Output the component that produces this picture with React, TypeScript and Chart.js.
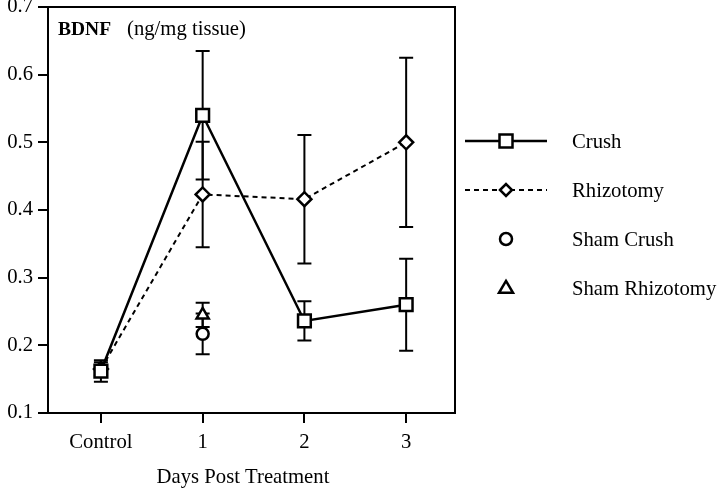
import React, { useEffect, useRef } from "react";
import { Chart, registerables } from "chart.js";

Chart.register(...registerables);

const categories = ["Control", "1", "2", "3"];
const yTickValues = [0.1, 0.2, 0.3, 0.4, 0.5, 0.6, 0.7];
const seriesNames = ["Crush", "Rhizotomy", "Sham Crush", "Sham Rhizotomy"];
const crushMean = [0.162, 0.54, 0.236, 0.26];
const crushErr = [0.016, 0.095, 0.029, 0.068];
const rhizMean = [0.165, 0.423, 0.416, 0.5];
const rhizErr = [0.01, 0.078, 0.095, 0.125];
const shamCrushMean: (number | null)[] = [null, 0.217, null, null];
const shamCrushErr: (number | null)[] = [null, 0.03, null, null];
const shamRhizMean: (number | null)[] = [null, 0.245, null, null];
const shamRhizErr: (number | null)[] = [null, 0.018, null, null];
const titleBold = "BDNF";
const titleUnit = "(ng/mg tissue)";
const xTitle = "Days Post Treatment";

const FONT = "'Liberation Serif', 'Times New Roman', serif";
const FS = 20.7;

const toPoints = (arr: (number | null)[]) =>
  arr.map((v, i) => (v == null ? null : { x: i, y: v })).filter((p) => p !== null);

const means = [crushMean, rhizMean, shamCrushMean, shamRhizMean];
const errs = [crushErr, rhizErr, shamCrushErr, shamRhizErr];

function drawMarker(ctx: CanvasRenderingContext2D, style: string, x: number, y: number, r: number) {
  ctx.beginPath();
  if (style === "rect") {
    ctx.rect(x - r, y - r, 2 * r, 2 * r);
  } else if (style === "rectRot") {
    ctx.moveTo(x - r, y);
    ctx.lineTo(x, y - r);
    ctx.lineTo(x + r, y);
    ctx.lineTo(x, y + r);
    ctx.closePath();
  } else if (style === "circle") {
    ctx.arc(x, y, r, 0, Math.PI * 2);
  } else {
    const h = r * 1.7;
    ctx.moveTo(x, y - h * 0.6);
    ctx.lineTo(x + r, y + h * 0.4);
    ctx.lineTo(x - r, y + h * 0.4);
    ctx.closePath();
  }
  ctx.fillStyle = "#fff";
  ctx.fill();
  ctx.lineWidth = 2.5;
  ctx.strokeStyle = "#000";
  ctx.stroke();
}

const customPlugin = {
  id: "custom",
  beforeDatasetsDraw(chart: any) {
    const ctx = chart.ctx as CanvasRenderingContext2D;
    const xs = chart.scales.x;
    const ys = chart.scales.y;
    ctx.save();
    ctx.strokeStyle = "#000";
    ctx.lineWidth = 2;
    means.forEach((m, si) => {
      m.forEach((v, i) => {
        const e = errs[si][i];
        if (v == null || e == null) return;
        const px = xs.getPixelForValue(i);
        const top = ys.getPixelForValue(v + e);
        const bot = ys.getPixelForValue(v - e);
        ctx.beginPath();
        ctx.moveTo(px, top);
        ctx.lineTo(px, bot);
        ctx.moveTo(px - 7, top);
        ctx.lineTo(px + 7, top);
        ctx.moveTo(px - 7, bot);
        ctx.lineTo(px + 7, bot);
        ctx.stroke();
      });
    });
    ctx.restore();
  },
  afterDraw(chart: any) {
    const ctx = chart.ctx as CanvasRenderingContext2D;
    const a = chart.chartArea;
    ctx.save();
    ctx.strokeStyle = "#000";
    ctx.lineWidth = 2;
    ctx.strokeRect(a.left, a.top, a.right - a.left, a.bottom - a.top);

    ctx.fillStyle = "#000";
    ctx.textBaseline = "alphabetic";
    ctx.textAlign = "left";
    ctx.font = `bold 19.5px ${FONT}`;
    ctx.fillText(titleBold, 58, 35);
    ctx.font = `${FS}px ${FONT}`;
    ctx.fillText(titleUnit, 127, 35);

    ctx.textAlign = "center";
    ctx.font = `${FS}px ${FONT}`;
    ctx.fillText(xTitle, 243, 483);

    // legend
    const lx1 = 465;
    const lx2 = 547;
    const mx = 506;
    const tx = 572;
    const ly = [141, 190, 239, 288];
    const styles = ["rect", "rectRot", "circle", "triangle"];
    const sizes = [6.5, 6, 6, 7];
    ly.forEach((y, i) => {
      if (i < 2) {
        ctx.beginPath();
        ctx.lineWidth = i === 0 ? 2.5 : 2;
        ctx.setLineDash(i === 0 ? [] : [5, 4]);
        ctx.moveTo(lx1, y);
        ctx.lineTo(lx2, y);
        ctx.stroke();
        ctx.setLineDash([]);
      }
      drawMarker(ctx, styles[i], mx, y, sizes[i]);
      ctx.fillStyle = "#000";
      ctx.textAlign = "left";
      ctx.textBaseline = "alphabetic";
      ctx.font = `${FS}px ${FONT}`;
      ctx.fillText(seriesNames[i], tx, y + 7);
    });
    ctx.restore();
  },
};

export default function App() {
  const ref = useRef<HTMLCanvasElement | null>(null);
  useEffect(() => {
    document.body.style.margin = "0";
    const canvas = ref.current!;
    const common = {
      borderColor: "#000",
      pointBackgroundColor: "#fff",
      pointBorderColor: "#000",
      pointBorderWidth: 2.5,
      backgroundColor: "#fff",
    };
    const chart = new Chart(canvas, {
      type: "line",
      data: {
        datasets: [
          {
            ...common,
            label: seriesNames[0],
            data: toPoints(crushMean) as any,
            borderWidth: 2.5,
            pointStyle: "rect",
            pointRadius: 9,
          },
          {
            ...common,
            label: seriesNames[1],
            data: toPoints(rhizMean) as any,
            borderWidth: 2,
            borderDash: [5, 4],
            pointStyle: "rectRot",
            pointRadius: 7,
          },
          {
            ...common,
            label: seriesNames[2],
            data: toPoints(shamCrushMean) as any,
            showLine: false,
            pointStyle: "circle",
            pointRadius: 6,
          },
          {
            ...common,
            label: seriesNames[3],
            data: toPoints(shamRhizMean) as any,
            showLine: false,
            pointStyle: "triangle",
            pointRadius: 7,
          },
        ],
      },
      options: {
        responsive: false,
        animation: false,
        layout: { autoPadding: false, padding: { top: 7, right: 265, left: 0, bottom: 0 } },
        plugins: { legend: { display: false }, tooltip: { enabled: false } },
        scales: {
          x: {
            type: "linear",
            min: -0.52,
            max: 3.48,
            afterBuildTicks: (scale: any) => {
              scale.ticks = categories.map((_, i) => ({ value: i }));
            },
            afterFit: (scale: any) => {
              scale.height = 78;
              scale.paddingLeft = 0;
              scale.paddingRight = 0;
            },
            ticks: {
              color: "#000",
              font: { family: FONT, size: FS },
              padding: 7,
              maxRotation: 0,
              autoSkip: false,
              callback: (v: any) => categories[Math.round(Number(v))] ?? "",
            },
            grid: {
              drawOnChartArea: false,
              drawTicks: true,
              tickLength: 10,
              color: "#000",
              lineWidth: 2,
            },
            border: { display: false },
          },
          y: {
            type: "linear",
            min: 0.1,
            max: 0.7,
            afterBuildTicks: (scale: any) => {
              scale.ticks = yTickValues.map((v) => ({ value: v }));
            },
            afterFit: (scale: any) => {
              scale.width = 48;
              scale.paddingTop = 0;
              scale.paddingBottom = 0;
            },
            ticks: {
              color: "#000",
              font: { family: FONT, size: FS },
              padding: 5,
              callback: (v: any) => Number(v).toFixed(1),
            },
            grid: {
              drawOnChartArea: false,
              drawTicks: true,
              tickLength: 10,
              color: "#000",
              lineWidth: 2,
            },
            border: { display: false },
          },
        },
      },
      plugins: [customPlugin],
    });
    return () => chart.destroy();
  }, []);
  return (
    <div style={{ width: 720, height: 491, background: "#fff" }}>
      <canvas ref={ref} width={720} height={491} style={{ display: "block" }} />
    </div>
  );
}
